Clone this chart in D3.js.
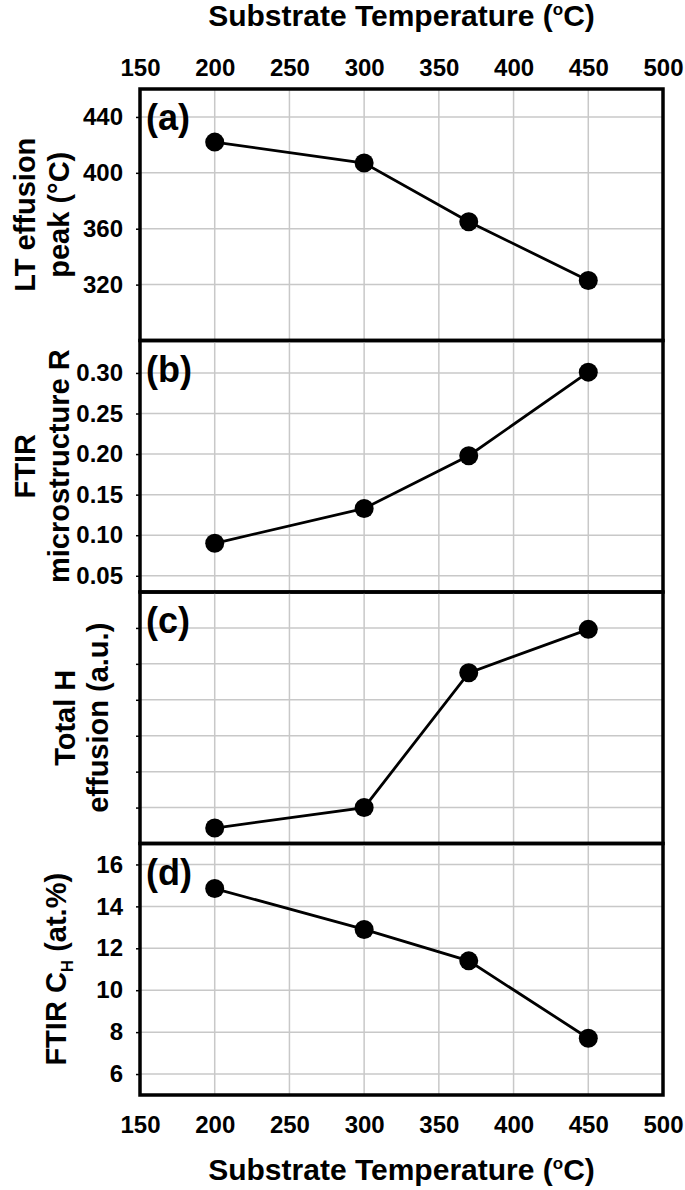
<!DOCTYPE html>
<html>
<head>
<meta charset="utf-8">
<script src="https://cdn.jsdelivr.net/npm/d3@7"></script>
<style>
  body { margin: 0; background: #fff; }
  text { font-family: "Liberation Sans", Arial, sans-serif; font-weight: bold; fill: #000; }
</style>
</head>
<body>
<script>
// ---- data ----
const xTicks = [150, 200, 250, 300, 350, 400, 450, 500];
const temps = [200, 300, 370, 450];
const ltPeak = [422, 407, 365, 323];
const ftirR = [0.090, 0.133, 0.198, 0.301];
const totalH = [0.43, 1.0, 4.75, 5.96];
const ftirCH = [14.85, 12.9, 11.4, 7.71];

const ticksA = [320, 360, 400, 440];
const ticksB = [0.05, 0.10, 0.15, 0.20, 0.25, 0.30];
const ticksC = [1, 2, 3, 4, 5, 6];
const ticksD = [6, 8, 10, 12, 14, 16];

const panels = [
  { label: "(a)", values: ltPeak, domain: [280, 460], ticks: ticksA, fmt: d3.format("d"), showLabels: true,
    title: ["LT effusion", "peak (°C)"], titleX: [35, 69] },
  { label: "(b)", values: ftirR, domain: [0.03, 0.34], ticks: ticksB, fmt: d3.format(".2f"), showLabels: true,
    title: ["FTIR", "microstructure R"], titleX: [35, 69] },
  { label: "(c)", values: totalH, domain: [0, 7], ticks: ticksC, fmt: d3.format("d"), showLabels: false,
    title: ["Total H", "effusion (a.u.)"], titleX: [75, 108] },
  { label: "(d)", values: ftirCH, domain: [5, 17], ticks: ticksD, fmt: d3.format("d"), showLabels: true,
    title: null, titleX: [66] }
];

// ---- layout ----
const W = 685, H = 1190;
const pLeft = 140, pRight = 663, pTop = 89, pBottom = 1095;
const ph = (pBottom - pTop) / 4;
const FONT = "'Liberation Sans', Arial, sans-serif";

const svg = d3.select("body").append("svg").attr("width", W).attr("height", H);
const x = d3.scaleLinear().domain([150, 500]).range([pLeft, pRight]);

panels.forEach((p, i) => {
  const y0 = pTop + i * ph, y1 = y0 + ph;
  const y = d3.scaleLinear().domain(p.domain).range([y1, y0]);
  const g = svg.append("g");

  g.selectAll("line.vg").data(xTicks.slice(1, -1)).join("line")
    .attr("x1", d => x(d)).attr("x2", d => x(d)).attr("y1", y0).attr("y2", y1)
    .attr("stroke", "#c8c8c8").attr("stroke-width", 1.5);
  g.selectAll("line.hg").data(p.ticks).join("line")
    .attr("x1", pLeft).attr("x2", pRight).attr("y1", d => y(d)).attr("y2", d => y(d))
    .attr("stroke", "#c8c8c8").attr("stroke-width", 1.5);

  const ax = d3.axisLeft(y).tickValues(p.ticks).tickSize(4).tickSizeOuter(0).tickPadding(13)
    .tickFormat(p.showLabels ? p.fmt : () => "");
  const ag = g.append("g").attr("transform", `translate(${pLeft},0)`).call(ax);
  ag.select(".domain").remove();
  ag.selectAll("line").attr("stroke", "#000").attr("stroke-width", 1.5);
  ag.selectAll("text").style("font-size", "24px").style("font-family", FONT)
    .style("font-weight", "bold").attr("fill", "#000");

  const pts = temps.map((t, k) => [t, p.values[k]]);
  g.append("path").datum(pts)
    .attr("d", d3.line().x(d => x(d[0])).y(d => y(d[1])))
    .attr("fill", "none").attr("stroke", "#000").attr("stroke-width", 2.8);
  g.selectAll("circle").data(pts).join("circle")
    .attr("cx", d => x(d[0])).attr("cy", d => y(d[1])).attr("r", 9.5).attr("fill", "#000");

  g.append("text").attr("x", pLeft + 6).attr("y", y0 + 41).style("font-size", "36px").text(p.label);

  const cy = (y0 + y1) / 2;
  if (p.title) {
    p.title.forEach((line, j) => {
      g.append("text").attr("transform", `translate(${p.titleX[j]},${cy}) rotate(-90)`)
        .attr("text-anchor", "middle").style("font-size", "29px").text(line);
    });
  } else {
    const t = g.append("text").attr("transform", `translate(${p.titleX[0]},${cy}) rotate(-90)`)
      .attr("text-anchor", "middle").style("font-size", "29px");
    t.append("tspan").text("FTIR C");
    t.append("tspan").attr("dy", 7).style("font-size", "17px").text("H");
    t.append("tspan").attr("dy", -7).text(" (at.%)");
  }

  g.append("rect").attr("x", pLeft).attr("y", y0).attr("width", pRight - pLeft).attr("height", ph)
    .attr("fill", "none").attr("stroke", "#000").attr("stroke-width", 3.5);
});

const axTop = svg.append("g").attr("transform", `translate(0,${pTop})`)
  .call(d3.axisTop(x).tickValues(xTicks).tickSize(0).tickPadding(13).tickFormat(d3.format("d")));
const axBot = svg.append("g").attr("transform", `translate(0,${pBottom})`)
  .call(d3.axisBottom(x).tickValues(xTicks).tickSize(0).tickPadding(21).tickFormat(d3.format("d")));
[axTop, axBot].forEach(a => {
  a.select(".domain").remove();
  a.selectAll("text").style("font-size", "24px").style("font-family", FONT)
    .style("font-weight", "bold").attr("fill", "#000");
});

function axisTitle(yPos) {
  const t = svg.append("text").attr("x", (pLeft + pRight) / 2).attr("y", yPos)
    .attr("text-anchor", "middle").style("font-size", "30px");
  t.append("tspan").text("Substrate Temperature (");
  t.append("tspan").attr("dy", -11).style("font-size", "17px").text("o");
  t.append("tspan").attr("dy", 11).text("C)");
}
axisTitle(26);
axisTitle(1180);
</script>
</body>
</html>
